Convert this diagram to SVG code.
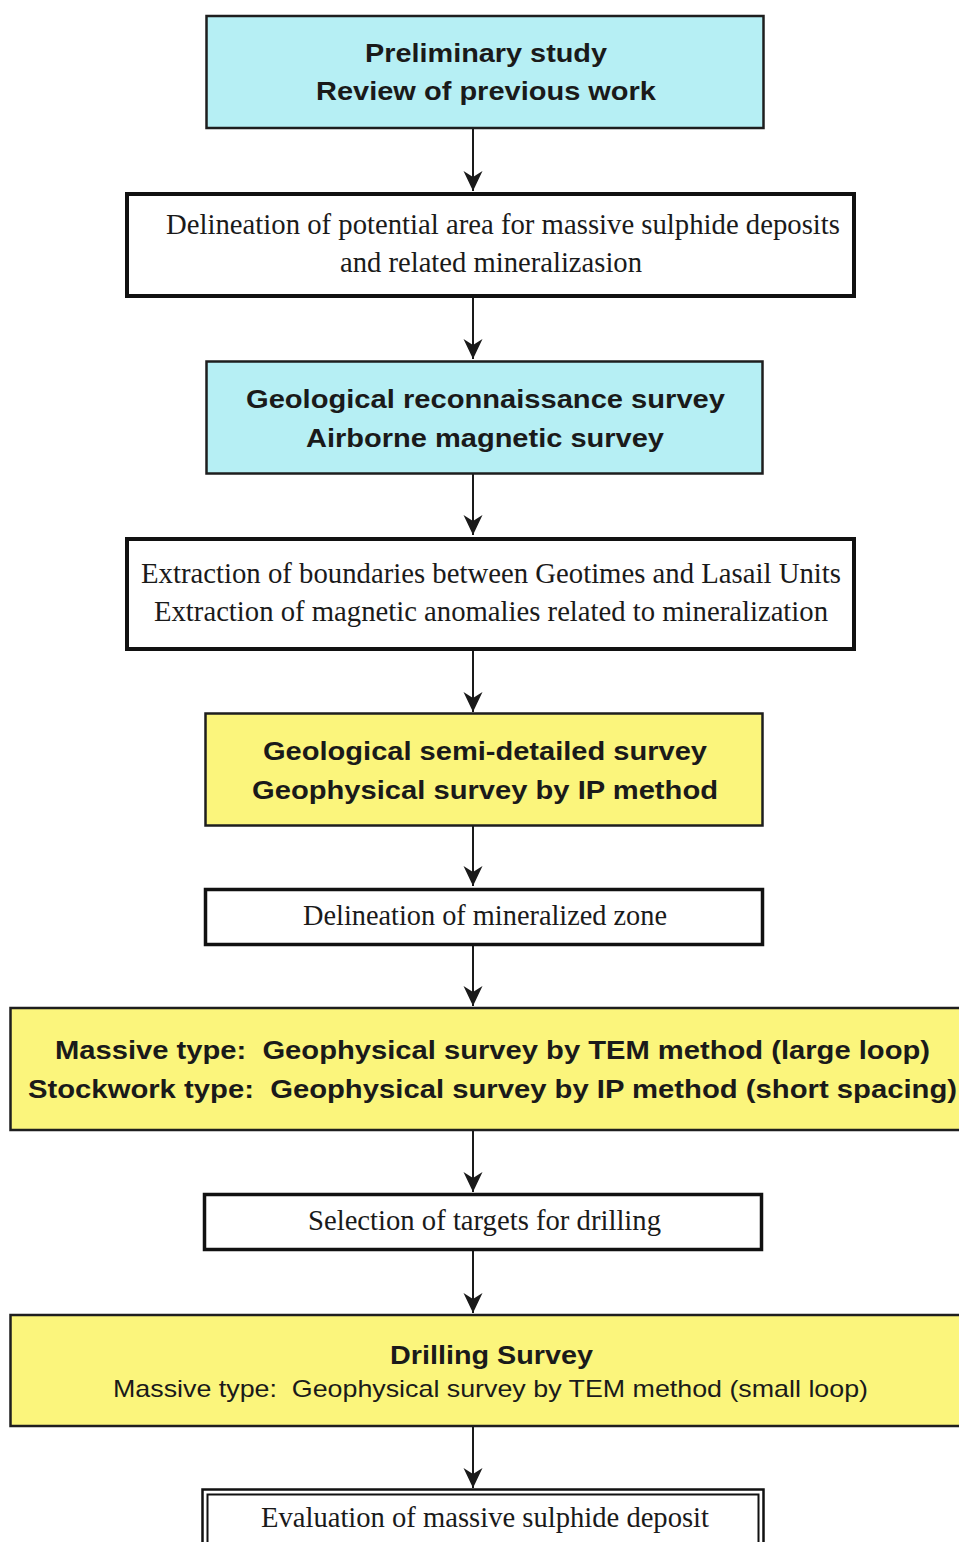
<svg xmlns="http://www.w3.org/2000/svg" width="959" height="1542" viewBox="0 0 959 1542">
  <style>
    .cyan { fill: #b6eff4; stroke: #1e1e1e; stroke-width: 2.5; }
    .yellow { fill: #fbf57c; stroke: #1e1e1e; stroke-width: 2.5; }
    .white { fill: #ffffff; stroke: #111111; stroke-width: 4; }
    .thin { fill: none; stroke: #111111; stroke-width: 2; }
    text { white-space: pre; }
    .sb { font-family: "Liberation Sans", Arial, sans-serif; font-weight: bold; font-size: 26.5px; fill: #1a1a1a; }
    .sr { font-family: "Liberation Sans", Arial, sans-serif; font-size: 24px; fill: #1a1a1a; }
    .tr { font-family: "Liberation Serif", "Times New Roman", serif; font-size: 29px; fill: #1a1a1a; }
    .conn { stroke: #1a1a1a; stroke-width: 2; fill: none; marker-end: url(#arrow); }
  </style>
  <defs>
    <marker id="arrow" markerUnits="userSpaceOnUse" markerWidth="22" markerHeight="22" refX="20" refY="10" orient="auto">
      <path d="M0,0.5 L20,10 L0,19.5 L6,10 Z" fill="#1a1a1a"/>
    </marker>
  </defs>
  <rect x="0" y="0" width="959" height="1542" fill="#ffffff"/>

  <g id="connectors">
    <line class="conn" x1="473" y1="129" x2="473" y2="191"/>
    <line class="conn" x1="473" y1="298" x2="473" y2="359"/>
    <line class="conn" x1="473" y1="474" x2="473" y2="535"/>
    <line class="conn" x1="473" y1="651" x2="473" y2="712"/>
    <line class="conn" x1="473" y1="826" x2="473" y2="886"/>
    <line class="conn" x1="473" y1="946" x2="473" y2="1006"/>
    <line class="conn" x1="473" y1="1131" x2="473" y2="1192"/>
    <line class="conn" x1="473" y1="1251" x2="473" y2="1313"/>
    <line class="conn" x1="473" y1="1427" x2="473" y2="1488"/>
  </g>

  <g id="n1">
    <rect class="cyan" x="206.5" y="16" width="557" height="112"/>
    <text class="sb" x="365" y="62" textLength="242" lengthAdjust="spacingAndGlyphs">Preliminary study</text>
    <text class="sb" x="316" y="100" textLength="340" lengthAdjust="spacingAndGlyphs">Review of previous work</text>
  </g>

  <g id="n2">
    <rect class="white" x="127" y="194" width="727" height="102"/>
    <text class="tr" x="166" y="234" textLength="674" lengthAdjust="spacingAndGlyphs">Delineation of potential area for massive sulphide deposits</text>
    <text class="tr" x="340" y="272" textLength="302" lengthAdjust="spacingAndGlyphs">and related mineralizasion</text>
  </g>

  <g id="n3">
    <rect class="cyan" x="206.5" y="361.5" width="556" height="112"/>
    <text class="sb" x="246" y="408" textLength="479" lengthAdjust="spacingAndGlyphs">Geological reconnaissance survey</text>
    <text class="sb" x="306" y="447" textLength="358" lengthAdjust="spacingAndGlyphs">Airborne magnetic survey</text>
  </g>

  <g id="n4">
    <rect class="white" x="127" y="539" width="727" height="110"/>
    <text class="tr" x="141" y="583" textLength="700" lengthAdjust="spacingAndGlyphs">Extraction of boundaries between Geotimes and Lasail Units</text>
    <text class="tr" x="154" y="621" textLength="674" lengthAdjust="spacingAndGlyphs">Extraction of magnetic anomalies related to mineralization</text>
  </g>

  <g id="n5">
    <rect class="yellow" x="205.5" y="713.5" width="557" height="112"/>
    <text class="sb" x="263" y="760" textLength="444" lengthAdjust="spacingAndGlyphs">Geological semi-detailed survey</text>
    <text class="sb" x="252" y="799" textLength="466" lengthAdjust="spacingAndGlyphs">Geophysical survey by IP method</text>
  </g>

  <g id="n6">
    <rect class="white" x="205.5" y="889.5" width="557" height="55" style="stroke-width:3.5"/>
    <text class="tr" x="303" y="925" textLength="364" lengthAdjust="spacingAndGlyphs">Delineation of mineralized zone</text>
  </g>

  <g id="n7">
    <rect class="yellow" x="10.5" y="1008" width="965" height="122"/>
    <text class="sb" x="55" y="1059" textLength="875" lengthAdjust="spacingAndGlyphs">Massive type:  Geophysical survey by TEM method (large loop)</text>
    <text class="sb" x="28" y="1098" textLength="929" lengthAdjust="spacingAndGlyphs">Stockwork type:  Geophysical survey by IP method (short spacing)</text>
  </g>

  <g id="n8">
    <rect class="white" x="204.5" y="1194.5" width="557" height="55" style="stroke-width:3.5"/>
    <text class="tr" x="308" y="1230" textLength="353" lengthAdjust="spacingAndGlyphs">Selection of targets for drilling</text>
  </g>

  <g id="n9">
    <rect class="yellow" x="10.5" y="1315" width="965" height="111"/>
    <text class="sb" x="390" y="1364" textLength="203" lengthAdjust="spacingAndGlyphs">Drilling Survey</text>
    <text class="sr" x="113" y="1397" textLength="755" lengthAdjust="spacingAndGlyphs">Massive type:  Geophysical survey by TEM method (small loop)</text>
  </g>

  <g id="n10">
    <rect x="202.5" y="1489.5" width="561" height="80" fill="#ffffff" stroke="#111111" stroke-width="2.5"/>
    <rect class="thin" x="207.5" y="1494.5" width="551" height="70"/>
    <text class="tr" x="261" y="1527" textLength="448" lengthAdjust="spacingAndGlyphs">Evaluation of massive sulphide deposit</text>
  </g>
</svg>
